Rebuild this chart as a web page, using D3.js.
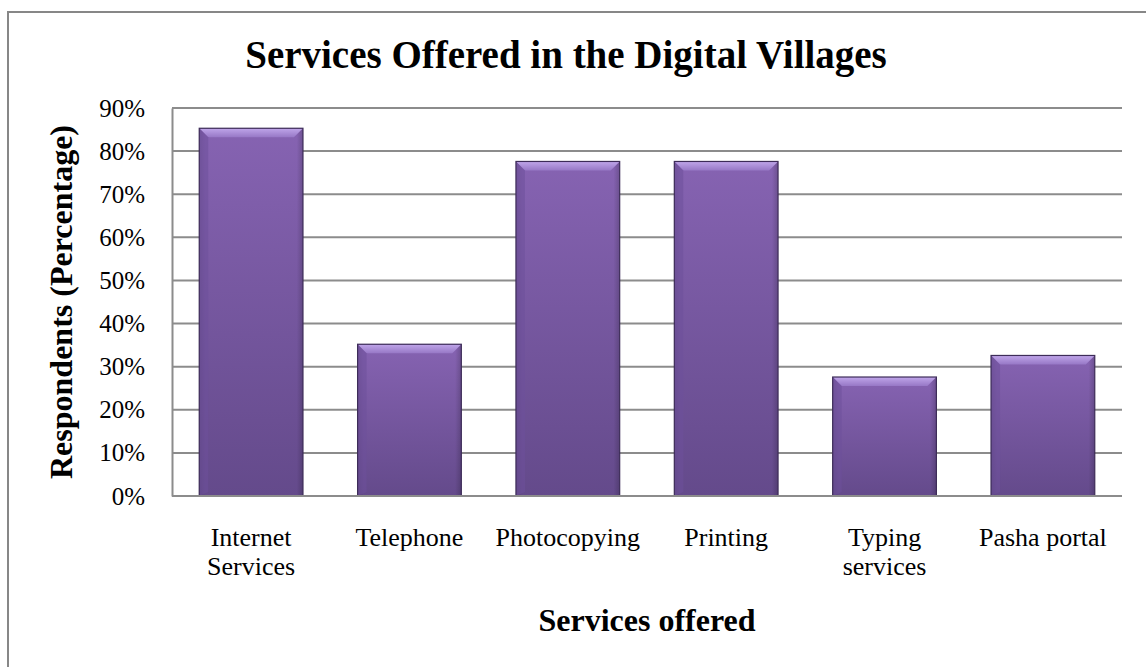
<!DOCTYPE html>
<html>
<head>
<meta charset="utf-8">
<script src="https://cdn.jsdelivr.net/npm/d3@7"></script>
<style>
  html, body { margin: 0; padding: 0; background: #fff; }
  svg { display: block; }
  text { font-family: "Liberation Serif", "Times New Roman", serif; fill: #000; }
</style>
</head>
<body>
<svg id="chart" width="1146" height="667"></svg>
<script>
// Services offered in the digital villages (% of respondents)
const categories = [["Internet", "Services"], ["Telephone"], ["Photocopying"], ["Printing"], ["Typing", "services"], ["Pasha portal"]];
const values = [85.3, 35.2, 77.6, 77.6, 27.6, 32.6];
const yTicks = [0, 10, 20, 30, 40, 50, 60, 70, 80, 90];

const title = "Services Offered in the Digital Villages";
const xTitle = "Services offered";
const yTitle = "Respondents (Percentage)";

const W = 1146, H = 667;
const plot = { left: 172, right: 1122, top: 108, bottom: 496 };

const svg = d3.select("#chart");

// outer chart frame
svg.append("rect")
  .attr("x", 8).attr("y", 12)
  .attr("width", W + 20).attr("height", H + 20)
  .attr("fill", "#fff").attr("stroke", "#878787").attr("stroke-width", 2);

const keys = categories.map(c => c.join(" "));
const x = d3.scaleBand().domain(keys).range([plot.left, plot.right]).paddingInner(0.345).paddingOuter(0.172);
const y = d3.scaleLinear().domain([0, 90]).range([plot.bottom, plot.top]);

// gradients for bars
const defs = svg.append("defs");
const body = defs.append("linearGradient").attr("id", "barBody").attr("x1", 0).attr("y1", 0).attr("x2", 0).attr("y2", 1);
body.append("stop").attr("offset", "0%").attr("stop-color", "#8663b2");
body.append("stop").attr("offset", "100%").attr("stop-color", "#644a8b");
const side = defs.append("linearGradient").attr("id", "barSide").attr("x1", 0).attr("y1", 0).attr("x2", 1).attr("y2", 0);
side.append("stop").attr("offset", "0%").attr("stop-color", "#000").attr("stop-opacity", 0.12);
side.append("stop").attr("offset", "6%").attr("stop-color", "#000").attr("stop-opacity", 0);
side.append("stop").attr("offset", "94%").attr("stop-color", "#000").attr("stop-opacity", 0);
side.append("stop").attr("offset", "100%").attr("stop-color", "#000").attr("stop-opacity", 0.18);
const topBevel = defs.append("linearGradient").attr("id", "barTop").attr("x1", 0).attr("y1", 0).attr("x2", 0).attr("y2", 1);
topBevel.append("stop").attr("offset", "0%").attr("stop-color", "#c0a6ea");
topBevel.append("stop").attr("offset", "100%").attr("stop-color", "#9778c6");

// gridlines
svg.append("g").selectAll("line").data(yTicks).join("line")
  .attr("x1", plot.left).attr("x2", plot.right)
  .attr("y1", d => y(d)).attr("y2", d => y(d))
  .attr("stroke", "#8c8c8c").attr("stroke-width", 2);

// y axis
const yAxis = svg.append("g").attr("transform", `translate(${plot.left},0)`)
  .call(d3.axisLeft(y).tickValues(yTicks).tickSize(0).tickPadding(27).tickFormat(d => d + "%"));
yAxis.select(".domain").attr("stroke", "#8c8c8c").attr("stroke-width", 2);
yAxis.selectAll("text").style("font-size", "25px").attr("fill", "#000");

// bars
const bars = svg.append("g").selectAll("g").data(values).join("g")
  .attr("transform", (d, i) => `translate(${x(keys[i])},${y(d)})`);
const bw = x.bandwidth();
const bev = 9;
bars.append("rect")
  .attr("width", bw).attr("height", d => y(0) - y(d))
  .attr("fill", "url(#barBody)");
bars.append("rect")
  .attr("width", bw).attr("height", d => y(0) - y(d))
  .attr("fill", "url(#barSide)");
bars.append("path")
  .attr("d", `M0,0 L${bw},0 L${bw - bev},${bev} L${bev},${bev} Z`)
  .attr("fill", "url(#barTop)");
bars.append("path")
  .attr("d", d => `M0,0 L${bev},${bev} L${bev},${y(0) - y(d) - 4} L0,${y(0) - y(d)} Z`)
  .attr("fill", "#6d509a").attr("opacity", 0.55);
bars.append("rect")
  .attr("width", bw).attr("height", d => y(0) - y(d))
  .attr("fill", "none").attr("stroke", "#3d2c58").attr("stroke-width", 1.2);

// x axis baseline
svg.append("line")
  .attr("x1", plot.left).attr("x2", plot.right)
  .attr("y1", y(0)).attr("y2", y(0))
  .attr("stroke", "#8c8c8c").attr("stroke-width", 2);

// category labels
const xl = svg.append("g").selectAll("text").data(categories).join("text")
  .attr("x", (d, i) => x(keys[i]) + bw / 2)
  .attr("y", 546)
  .attr("text-anchor", "middle")
  .style("font-size", "26px");
xl.selectAll("tspan").data(d => d).join("tspan")
  .attr("x", function () { return d3.select(this.parentNode).attr("x"); })
  .attr("dy", (d, i) => i === 0 ? 0 : 29)
  .text(d => d);

// titles
svg.append("text").attr("x", 566).attr("y", 68).attr("text-anchor", "middle")
  .style("font-size", "39px").style("font-weight", "bold").text(title);
svg.append("text").attr("x", 647).attr("y", 631).attr("text-anchor", "middle")
  .style("font-size", "32px").style("font-weight", "bold").text(xTitle);
svg.append("text").attr("transform", "translate(72,302) rotate(-90)").attr("text-anchor", "middle")
  .style("font-size", "32px").style("font-weight", "bold").text(yTitle);
</script>
</body>
</html>
